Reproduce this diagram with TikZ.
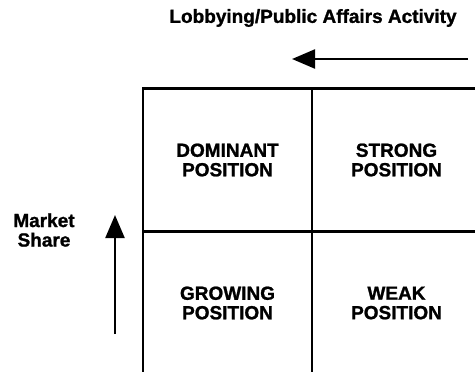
\documentclass[tikz,border=0pt]{standalone}
\usepackage{fontspec}
\setmainfont{Liberation Sans}[BoldFeatures={FakeBold=1.2}]
\usetikzlibrary{arrows.meta,positioning}

\begin{document}
\begin{tikzpicture}[x=1pt,y=-1pt,
    cell/.style={draw, line width=2.2pt, outer sep=0pt, inner sep=0pt,
        minimum width=169pt, minimum height=143pt, align=center,
        font=\bfseries\fontsize{19}{19.5}\selectfont},
    axis/.style={line width=2.2pt, -{Triangle[length=23pt,width=19pt]}},
    axistext/.style={align=center, font=\bfseries\fontsize{19}{19.5}\selectfont}]
\useasboundingbox (0,0) rectangle (475,372);
\clip (0,0) rectangle (475,372);

% Four quadrants
\node[cell] (dominant) at (227.5,160) {DOMINANT\\POSITION};
\node[cell, right=0pt of dominant] (strong) {STRONG\\POSITION};
\node[cell, below=0pt of dominant] (growing) {GROWING\\POSITION};
\node[cell, right=0pt of growing] (weak) {WEAK\\POSITION};

% Horizontal axis
\node[axistext] (activity) at (313,18) {Lobbying/Public Affairs Activity};
\coordinate (actfrom) at (468,59);
\coordinate (actto) at (292,59);
\draw[axis] (actfrom) -- (actto);

% Vertical axis
\node[axistext] (share) at (44,230) {Market\\Share};
\coordinate (sharefrom) at (115,334);
\coordinate (shareto) at (115,215);
\draw[axis] (sharefrom) -- (shareto);
\end{tikzpicture}
\end{document}
